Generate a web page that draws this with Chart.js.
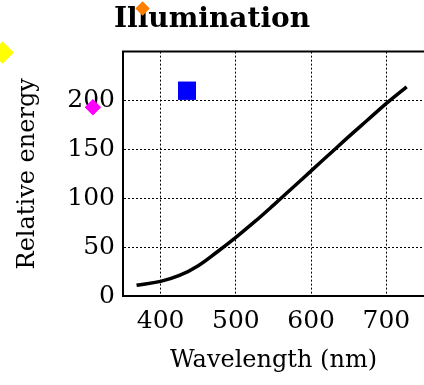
<!DOCTYPE html>
<html>
<head>
<meta charset="utf-8">
<script src="https://cdn.jsdelivr.net/npm/chart.js@4/dist/chart.umd.min.js"></script>
<style>
  html, body { margin: 0; padding: 0; background: #fff; }
  #wrap { width: 424px; height: 385px; position: relative; }
</style>
</head>
<body>
<div id="wrap"><canvas id="c"></canvas></div>
<script>
// spectrum of the illuminant
const wavelengths = [368, 400, 425, 450, 475, 500, 525, 550, 575, 600, 625, 650, 675, 700, 727];
const energy = [11, 15, 21, 31, 45, 60, 76, 93, 110.5, 128, 145.5, 163, 180, 197, 214];

// loose markers on the figure
const markerX = [435, 310, 190, 376];
const markerY = [210, 193, 249, 294];
const markerColors = ['#0000ff', '#ff00ff', '#ffff00', '#ff8000'];
const markerStyles = ['rect', 'rectRot', 'rectRot', 'rectRot'];
const markerSizes = [12.7, 8, 11, 7];

const xTicks = [400, 500, 600, 700];
const yTicks = [0, 50, 100, 150, 200];

const serif = "'DejaVu Serif', serif";

// top edge of the frame, plus the markers (some sit outside the plot area)
const extras = {
    id: 'extras',
    afterDraw(chart) {
        const { ctx, chartArea, scales } = chart;
        ctx.save();
        ctx.strokeStyle = '#000';
        ctx.lineWidth = 2;
        ctx.beginPath();
        ctx.moveTo(chartArea.left - 1, chartArea.top);
        ctx.lineTo(chartArea.right, chartArea.top);
        ctx.stroke();
        markerX.forEach((mx, i) => {
            ctx.fillStyle = markerColors[i];
            Chart.helpers.drawPoint(ctx, {
                pointStyle: markerStyles[i],
                radius: markerSizes[i],
                rotation: 0,
                borderWidth: 0
            }, scales.x.getPixelForValue(mx), scales.y.getPixelForValue(markerY[i]));
            ctx.fill();
        });
        ctx.restore();
    }
};

new Chart(document.getElementById('c'), {
    type: 'scatter',
    data: {
        datasets: [{
            data: wavelengths.map((w, i) => ({ x: w, y: energy[i] })),
            showLine: true,
            borderColor: '#000',
            borderWidth: 3.5,
            tension: 0.4,
            pointRadius: 0
        }]
    },
    plugins: [extras],
    options: {
        responsive: true,
        maintainAspectRatio: false,
        animation: false,
        layout: { padding: 0 },
        plugins: {
            legend: { display: false },
            tooltip: { enabled: false },
            title: {
                display: true,
                text: 'Illumination',
                color: '#000',
                font: { family: serif, size: 28, weight: 'bold' },
                padding: { top: 3, bottom: 15 }
            }
        },
        scales: {
            x: {
                type: 'linear',
                min: 350,
                max: 750,
                afterBuildTicks: s => { s.ticks = xTicks.map(v => ({ value: v })); },
                afterFit: s => { s.height = 89; s.paddingRight = 0; },
                grid: { color: '#000', lineWidth: 1, drawTicks: false },
                border: { color: '#000', width: 2, dash: [2, 2] },
                ticks: { color: '#000', padding: 10, font: { family: serif, size: 25 } },
                title: {
                    display: true,
                    text: 'Wavelength (nm)',
                    color: '#000',
                    font: { family: serif, size: 24 },
                    padding: { top: 0, bottom: 10 }
                }
            },
            y: {
                min: 0,
                max: 250,
                afterBuildTicks: s => { s.ticks = yTicks.map(v => ({ value: v })); },
                afterFit: s => { s.width = 123; },
                grid: { color: '#000', lineWidth: 1, drawTicks: false },
                border: { color: '#000', width: 2, dash: [2, 2] },
                ticks: { color: '#000', padding: 8, font: { family: serif, size: 25 } },
                title: {
                    display: true,
                    text: 'Relative energy',
                    color: '#000',
                    font: { family: serif, size: 24 },
                    padding: { top: 13, bottom: 0 }
                }
            }
        }
    }
});
</script>
</body>
</html>
